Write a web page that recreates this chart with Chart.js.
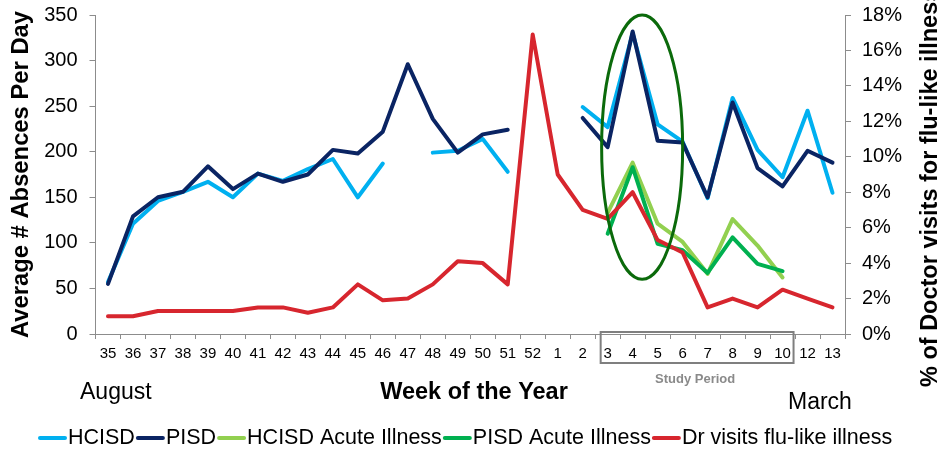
<!DOCTYPE html>
<html>
<head>
<meta charset="utf-8">
<script src="https://cdn.jsdelivr.net/npm/chart.js@4.4.0/dist/chart.umd.min.js"></script>
<style>
  html, body { margin: 0; padding: 0; background: #fff; }
  #wrap { width: 945px; height: 449px; }
</style>
</head>
<body>
<div id="wrap"><canvas id="absChart" width="945" height="449"></canvas></div>
<script>
// Недели учебного года (11-й недели нет в исходных данных)
const weeks = ['35','36','37','38','39','40','41','42','43','44','45','46','47','48','49','50','51','52',
               '1','2','3','4','5','6','7','8','9','10','12','13'];

// Среднее число пропусков в день
const hcisd = [57,121,146,156,167,150,176,168,181,192,150,187,null,199,201,214,178,null,
               null,249,227,330,230,211,149,259,202,172,245,155];
const pisd  = [55,129,150,156,184,159,176,167,175,202,198,222,296,236,199,219,224,null,
               null,237,205,332,212,210,150,254,182,162,201,188];

// Пропуски по острым заболеваниям (только учебный период)
const hcisdAcute = [null,null,null,null,null,null,null,null,null,null,null,null,null,null,null,null,null,null,
                    null,null,133,188,121,101,66,126,97,62,null,null];
const pisdAcute  = [null,null,null,null,null,null,null,null,null,null,null,null,null,null,null,null,null,null,
                    null,null,110,183,99,92,67,106,77,69,null,null];

// % визитов к врачу с гриппоподобными симптомами (правая ось)
const drVisits = [1.0,1.0,1.3,1.3,1.3,1.3,1.5,1.5,1.2,1.5,2.8,1.9,2.0,2.8,4.1,4.0,2.8,16.9,
                  9.0,7.0,6.5,8.0,5.3,4.6,1.5,2.0,1.5,2.5,2.0,1.5];

const leftTicks = [0, 50, 100, 150, 200, 250, 300, 350];
const rightTicks = [0, 2, 4, 6, 8, 10, 12, 14, 16, 18];

const FONT = '"Liberation Sans", Arial, sans-serif';
const AXIS_GRAY = '#8c8c8c';

function series(label, data, color, axis, idx) {
    return {
        label: label,
        data: data,
        borderColor: color,
        backgroundColor: color,
        borderWidth: 4,
        pointRadius: 0,
        tension: 0,
        spanGaps: false,
        borderCapStyle: 'round',
        borderJoinStyle: 'round',
        yAxisID: axis,
        order: 10 - idx   // как в Excel: последующие серии поверх
    };
}

// Аннотации: овал, рамка "Study Period", подписи и легенда
const extrasPlugin = {
    id: 'extras',
    afterDatasetsDraw(chart) {
        const ctx = chart.ctx;
        const x = chart.scales.x;
        const y = chart.scales.y;

        // овал вокруг пика 4-й недели
        const cx = (x.getPixelForValue(20) + x.getPixelForValue(23)) / 2 - 3;
        const top = y.getPixelForValue(350);
        const bottom = y.getPixelForValue(60);
        ctx.save();
        ctx.beginPath();
        ctx.ellipse(cx, (top + bottom) / 2, 40.5, (bottom - top) / 2, 0, 0, Math.PI * 2);
        ctx.strokeStyle = '#0b6a0b';
        ctx.lineWidth = 3;
        ctx.stroke();
        ctx.restore();
    },
    afterDraw(chart) {
        const ctx = chart.ctx;
        const x = chart.scales.x;
        const area = chart.chartArea;
        ctx.save();

        // рамка учебного периода (недели 3-10)
        const bx1 = x.getPixelForValue(20) - 7;
        const bx2 = x.getPixelForValue(27) + 11;
        ctx.strokeStyle = '#7f7f7f';
        ctx.lineWidth = 2;
        ctx.strokeRect(bx1, area.bottom - 2, bx2 - bx1, 31);
        ctx.fillStyle = '#8a8a8a';
        ctx.font = 'bold 13px ' + FONT;
        ctx.textAlign = 'center';
        ctx.textBaseline = 'middle';
        ctx.fillText('Study Period', (bx1 + bx2) / 2 - 2, 379);

        // подписи под осью
        ctx.fillStyle = '#000';
        ctx.font = '23px ' + FONT;
        ctx.textAlign = 'left';
        ctx.fillText('August', 80, 393);
        ctx.fillText('March', 788, 403);
        ctx.font = 'bold 23.5px ' + FONT;
        ctx.textAlign = 'center';
        ctx.fillText('Week of the Year', 474, 393);

        // заголовок правой оси (снизу вверх, обрезается сверху)
        ctx.save();
        ctx.translate(931, 387);
        ctx.rotate(-Math.PI / 2);
        ctx.font = 'bold 23.5px ' + FONT;
        ctx.textAlign = 'left';
        ctx.textBaseline = 'middle';
        ctx.fillText('% of Doctor visits for flu-like illness', 0, 0);
        ctx.restore();

        // легенда
        ctx.font = '21.5px ' + FONT;
        ctx.textBaseline = 'middle';
        ctx.textAlign = 'left';
        let lx = 38;
        const ly = 438;
        chart.data.datasets.forEach(ds => {
            ctx.strokeStyle = ds.borderColor;
            ctx.lineWidth = 4;
            ctx.lineCap = 'round';
            ctx.beginPath();
            ctx.moveTo(lx + 2, ly);
            ctx.lineTo(lx + 27, ly);
            ctx.stroke();
            lx += 30;
            ctx.fillStyle = '#000';
            ctx.fillText(ds.label, lx, ly);
            lx += ctx.measureText(ds.label).width + 1;
        });
        ctx.restore();
    }
};

const chart = new Chart(document.getElementById('absChart').getContext('2d'), {
    type: 'line',
    data: {
        labels: weeks,
        datasets: [
            series('HCISD', hcisd, '#00b0f0', 'y', 0),
            series('PISD', pisd, '#0a2463', 'y', 1),
            series('HCISD Acute Illness', hcisdAcute, '#92d050', 'y', 2),
            series('PISD Acute Illness', pisdAcute, '#00b050', 'y', 3),
            series('Dr visits flu-like illness', drVisits, '#d7262e', 'y2', 4)
        ]
    },
    options: {
        responsive: false,
        animation: false,
        devicePixelRatio: 1,
        layout: { padding: { top: 15, left: 0, right: 0, bottom: 0 } },
        plugins: {
            legend: { display: false },
            tooltip: { enabled: false }
        },
        scales: {
            x: {
                type: 'category',
                offset: true,
                grid: { drawOnChartArea: false, drawTicks: true, tickLength: 5, offset: true, color: AXIS_GRAY },
                border: { color: AXIS_GRAY, width: 1 },
                ticks: { color: '#000', font: { family: FONT, size: 15 }, padding: 6, maxRotation: 0, autoSkip: false },
                afterFit: s => { s.height = 115; }
            },
            y: {
                position: 'left',
                min: 0,
                max: 350,
                afterBuildTicks: s => { s.ticks = leftTicks.map(v => ({ value: v })); },
                grid: { drawOnChartArea: false, drawTicks: true, tickLength: 6, color: AXIS_GRAY },
                border: { color: AXIS_GRAY, width: 1 },
                ticks: { color: '#000', font: { family: FONT, size: 20 }, padding: 12 },
                title: {
                    display: true,
                    text: 'Average # Absences Per Day',
                    color: '#000',
                    font: { family: FONT, size: 23.8, weight: 'bold' },
                    padding: { top: 7, bottom: 0 }
                },
                afterFit: s => { s.width = 95.5; s.paddingTop = 0; s.paddingBottom = 0; }
            },
            y2: {
                position: 'right',
                min: 0,
                max: 18,
                afterBuildTicks: s => { s.ticks = rightTicks.map(v => ({ value: v })); },
                grid: { drawOnChartArea: false, drawTicks: true, tickLength: 6, color: AXIS_GRAY },
                border: { color: AXIS_GRAY, width: 1 },
                ticks: { color: '#000', font: { family: FONT, size: 20 }, padding: 11, callback: v => v + '%' },
                afterFit: s => { s.width = 100; s.paddingTop = 0; s.paddingBottom = 0; }
            }
        }
    },
    plugins: [extrasPlugin]
});
</script>
</body>
</html>
